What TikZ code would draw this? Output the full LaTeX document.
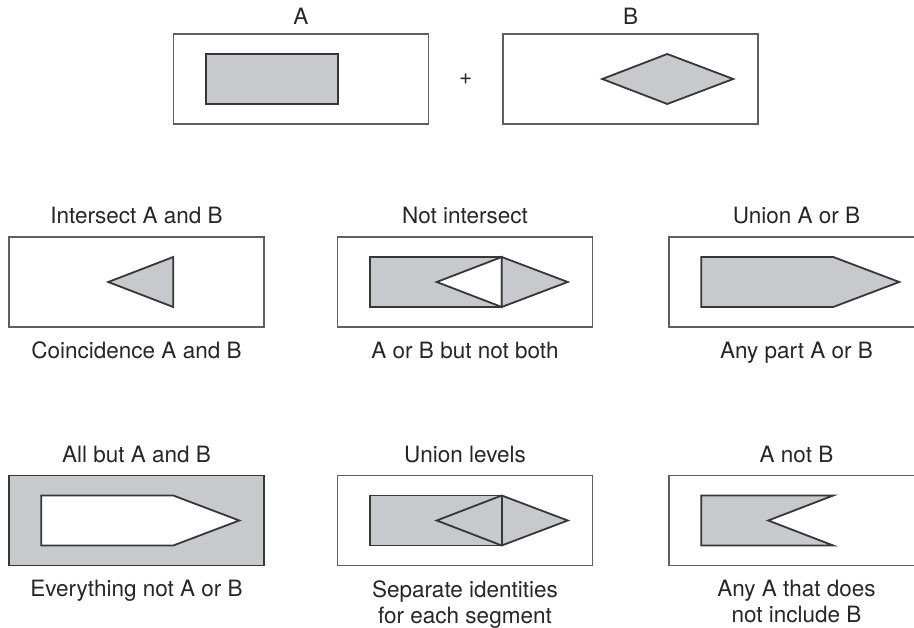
\documentclass[tikz,border=0pt]{standalone}
\usepackage{fontspec}
\setmainfont{TeX Gyre Heros}
\usepackage{tikz}
\usetikzlibrary{arrows,positioning,calc}
\definecolor{lightfill}{RGB}{200,201,204}
\definecolor{edge}{RGB}{55,55,55}
\definecolor{rim}{RGB}{95,95,95}

\begin{document}
\begin{tikzpicture}[x=1pt,y=-1pt,
    box/.style={draw=rim,line width=1.5pt,minimum width=255pt,minimum height=90pt,inner sep=0pt},
    region/.style={fill=lightfill,draw=edge,line width=1.8pt},
    hole/.style={fill=white,draw=edge,line width=1.8pt},
    lbl/.style={inner sep=0pt,text=black!85,font=\fontsize{22.5}{26}\selectfont,align=center}]
            \path[use as bounding box] (0,0) rectangle (914,628);
            \clip (0,0) rectangle (914,628);
            % the two sets
            \node[box] (A) at (301,79) {};
            \node[box,right=73pt of A] (B) {};
            \node[lbl,above=9pt of A] {A};
            \node[lbl,above=9pt of B] {B};
            \node[lbl] (plus) at ($(A.east)!0.5!(B.west)$) {+};
            \begin{scope}[shift={(A.west)}]
              \draw[region] (33,-25) rectangle (165,25);
            \end{scope}
            \begin{scope}[shift={(B.west)}]
              \draw[region] (100,0) -- (165,-25) -- (231,0) -- (165,25) -- cycle;
            \end{scope}
            % second row
            \node[box] (c1) at (136.5,282) {};
            \node[box,right=72pt of c1] (c2) {};
            \node[box,right=75pt of c2] (c3) {};
            \node[lbl,above=12pt of c1] {Intersect A and B};
            \node[lbl,above=12pt of c2] {Not intersect};
            \node[lbl,above=12pt of c3] {Union A or B};
            \node[lbl,below=14pt of c1] {Coincidence A and B};
            \node[lbl,below=14pt of c2] {A or B but not both};
            \node[lbl,below=14pt of c3] {Any part A or B};
            \begin{scope}[shift={(c1.west)}]
              \draw[region] (100,0) -- (165,-25) -- (165,25) -- cycle;
            \end{scope}
            \begin{scope}[shift={(c2.west)}]
              \draw[region] (33,-25) rectangle (165,25);
              \draw[hole] (100,0) -- (165,-25) -- (165,25) -- cycle;
              \draw[region] (165,-25) -- (231,0) -- (165,25) -- cycle;
            \end{scope}
            \begin{scope}[shift={(c3.west)}]
              \draw[region] (33,-25) -- (165,-25) -- (231,0) -- (165,25) -- (33,25) -- cycle;
            \end{scope}
            % third row
            \node[box,fill=lightfill,draw=edge,below=147pt of c1] (d1) {};
            \node[box,below=147pt of c2] (d2) {};
            \node[box,below=147pt of c3] (d3) {};
            \node[lbl,above=12pt of d1] {All but A and B};
            \node[lbl,above=12pt of d2] {Union levels};
            \node[lbl,above=12pt of d3] {A not B};
            \node[lbl,below=14pt of d1] {Everything not A or B};
            \node[lbl,below=14pt of d2] {Separate identities\\for each segment};
            \node[lbl,below=14pt of d3] {Any A that does\\not include B};
            \begin{scope}[shift={(d1.west)}]
              \draw[hole] (33,-25) -- (165,-25) -- (231,0) -- (165,25) -- (33,25) -- cycle;
            \end{scope}
            \begin{scope}[shift={(d2.west)}]
              \draw[region] (33,-25) rectangle (165,25);
              \draw[region] (100,0) -- (165,-25) -- (231,0) -- (165,25) -- cycle;
              \draw[edge,line width=1.8pt] (165,-25) -- (165,25);
            \end{scope}
            \begin{scope}[shift={(d3.west)}]
              \draw[region] (33,-25) -- (165,-25) -- (100,0) -- (165,25) -- (33,25) -- cycle;
            \end{scope}
\end{tikzpicture}
\end{document}
